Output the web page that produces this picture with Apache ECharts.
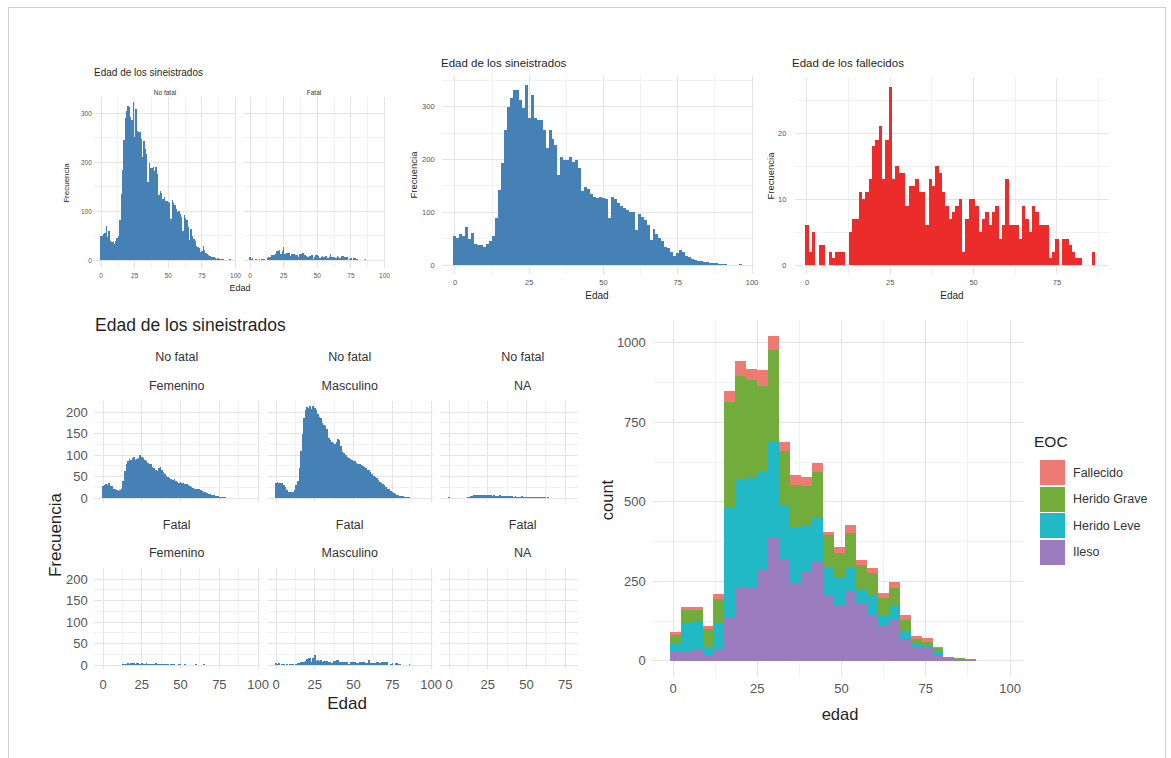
<!DOCTYPE html>
<html><head><meta charset="utf-8">
<script src="https://cdn.jsdelivr.net/npm/echarts@6/dist/echarts.min.js"></script>
<style>html,body{margin:0;padding:0;background:#fff}#c{width:1171px;height:758px}#c svg path{shape-rendering:crispEdges}</style>
</head><body><div id="c"></div>
<script>
// ---------------- DATA (counts indexed by age, starting at age 0) ----------------
const siniestradosTotal = [
 55,52,58,55,72,50,60,40,38,38, 35,40,45,55,89,142,194,256,300,317,
 332,332,313,298,341,279,322,279,275,275, 256,222,256,240,228,171,205,200,200,205,
 195,200,185,140,148,145,135,130,128,130, 128,125,89,130,125,118,112,108,104,100,
 100,66,97,92,85,76,48,68,58,52, 45,35,32,25,18,22,28,25,18,15,
 12,10,8,7,6,5,4,4,3,2, 2,2,1,1,0,1,2,1,0,0];
const siniestradosNoFatal = [
 49,50,53,55,69,47,60,38,37,36, 33,38,45,50,82,135,183,246,289,304,
 314,313,292,285,322,252,309,264,261,261, 247,210,244,227,217,160,199,187,188,190,
 181,189,176,133,140,136,125,128,121,120, 118,116,84,123,117,112,104,99,100,94,
 87,60,91,86,81,67,41,63,49,44, 39,29,26,24,16,18,28,21,14,12,
 10,9,7,7,6,5,2,4,3,2, 2,2,1,1,0,1,2,1,0,0];
const fallecidos = [
 6,2,5,0,3,3,0,2,1,2, 2,2,0,5,7,7,11,10,11,13,
 18,19,21,13,19,27,13,15,14,14, 9,12,12,13,11,11,6,13,12,15,
 14,11,9,7,8,9,10,2,7,10, 10,9,5,7,8,6,8,9,4,6,
 13,6,6,6,4,9,7,5,9,8, 6,6,6,1,2,4,0,4,4,3,
 2,1,1,0,0,0,2,0];
const femNoFatal = [
 28,30,32,30,34,29,28,22,20,18, 17,18,22,40,62,78,85,90,88,92,
 95,88,90,92,100,96,92,88,85,82, 80,78,72,70,66,62,70,73,65,60,
 55,52,50,46,45,42,44,40,38,36, 38,35,34,33,32,30,28,26,24,22,
 22,20,21,18,16,15,14,12,10,9, 8,7,6,5,4,3,3,2,2,2,
 1,1,1,1,0,1,0,0,0,0];
const mascNoFatal = [
 35,38,36,34,36,30,25,18,15,14, 13,14,18,30,40,70,110,150,185,205,
 212,210,214,208,213,210,205,195,188,185, 175,170,168,160,140,135,130,128,125,130,
 138,135,120,108,105,100,95,92,90,88, 86,85,82,80,78,77,75,72,70,66,
 64,60,56,52,48,46,42,38,35,32, 30,26,22,20,16,14,12,10,8,6,
 5,5,4,3,3,3,2,1,1,1, 1];
const naNoFatal = [
 2,1,1,0,1,1,0,1,0,1, 1,1,2,3,4,5,6,6,7,7,
 7,8,7,7,6,7,6,6,5,6, 5,5,5,6,5,4,5,4,4,5,
 4,4,3,4,3,3,3,4,3,3, 3,2,3,3,2,2,3,2,2,2,
 2,2,2,1,2,1,1,1,1,1, 1,0,1,0,1];
const femFatal = [
 1,0,1,0,0,1,0,0,0,0, 0,0,0,2,3,3,4,3,4,4,
 4,3,4,5,3,4,3,3,4,3, 3,2,3,3,4,3,2,3,2,3,
 2,3,2,1,2,2,3,0,1,2, 2,1,1,2,1,0,1,1,0,1,
 2,1,1,1,0,2,1,0,1,1];
const mascFatal = [
 5,2,4,0,3,2,0,2,1,2, 2,2,0,3,4,4,7,7,7,9,
 14,16,17,8,16,23,10,12,10,11, 6,10,9,10,7,8,4,10,10,12,
 12,8,7,6,6,7,7,2,6,8, 8,8,4,5,7,6,7,8,4,5,
 11,5,5,5,4,7,6,5,8,7, 6,6,6,1,2,4,0,4,4,3,
 2,1,1,0,0,0,2,0];
const naFatal = [0,0,1,0,0,0,0,0,0,0, 0,0,0,0,0,0,0,0,0,0, 0,0,0,0,0,0,0,0,0,1, 0,1];

// stacked histogram (EOC), bin edges in years of age
const eocEdges = [-1,2.25,5.5,8.75,12,15.25,18.5,21.75,25,28.25,31.5,34.75,38,41.25,44.5,47.75,51,54.25,57.5,60.75,64,67.25,70.5,73.75,77,80.25,83.5,86.75,90];
const eocIleso     = [29,29,37,19,35,134,234,234,286,386,318,245,281,313,208,176,218,182,145,113,129,66,45,40,19,12,7,5];
const eocLeve      = [27,90,87,21,84,346,336,346,310,304,168,173,147,141,84,84,79,41,58,32,47,26,11,10,10,1,0,0];
const eocGrave     = [26,41,36,60,75,336,325,305,268,289,173,136,121,139,105,79,107,79,73,52,53,37,12,11,11,1,1,0];
const eocFallecido = [10,9,9,10,16,32,47,33,52,42,31,31,31,31,10,21,24,16,16,16,19,16,9,10,5,0,0,0];
const eocNames = ['Fallecido','Herido Grave','Herido Leve','Ileso'];

// tick values
const ticksAge100 = [0,25,50,75,100];
const ticksAge75 = [0,25,50,75];
const minorAge = [12.5,37.5,62.5,87.5];
const ticksFreq300 = [0,100,200,300];
const minorFreq300 = [50,150,250,350];
const ticksFall = [0,10,20];
const minorFall = [5,15,25];
const ticksFacet = [0,50,100,150,200];
const minorFacet = [25,75,125,175];
const ticksCount = [0,250,500,750,1000];
const minorCount = [125,375,625,875];

// ---------------- STYLE ----------------
const FF = "'Liberation Sans', Arial, Helvetica, sans-serif";
const BLUE = '#4581B5', RED = '#EC2B2B';
const EOC_COL = {'Fallecido':'#EE7B73','Herido Grave':'#72AC3B','Herido Leve':'#20B9C5','Ileso':'#9B7CBE'};
const MAJOR = '#E4E4E4', MINOR = '#F1F1F1';

// panel layout: [left, top, width, height, xmin, xmax, ymin, ymax]
const P = [
 [94.3, 97.4, 141.9, 170.5, -5, 100.5, -16, 332],   // 0 A1 No fatal
 [243.3, 97.4, 141.9, 170.5, -5, 100.5, -16, 332],  // 1 A2 Fatal
 [441.6, 75.3, 311.9, 198.7, -4.5, 100.5, -17, 360],// 2 B
 [795.3, 77.6, 313.3, 196.4, -3.5, 90.5, -1.35, 28.4], // 3 C
 [93.7, 401.25, 166, 101.05, -6, 101, -10, 225],     // 4 D r1c1
 [266.7, 401.25, 166, 101.05, -6, 101, -10, 225],    // 5
 [439.7, 401.25, 138, 101.05, -6, 83, -10, 225],     // 6
 [93.7, 568.25, 166, 101.05, -6, 101, -10, 225],     // 7
 [266.7, 568.25, 166, 101.05, -6, 101, -10, 225],    // 8
 [439.7, 568.25, 138, 101.05, -6, 83, -10, 225],     // 9
 [652.8, 320.1, 370.7, 357.1, -6, 104, -51, 1072]    // 10 E
];
// axis label config per panel: [xLabels, yLabels, fontSize, xMargin, yMargin]
const LBL = [
 [ticksAge100, ticksFreq300, 6.5, 4, 2.5],
 [ticksAge100, null, 6.5, 4, 2.5],
 [ticksAge100, ticksFreq300, 7.5, 4.5, 7],
 [ticksAge75, ticksFall, 7.5, 4.5, 9],
 [null, ticksFacet, 13, 9, 6],
 [null, null, 13, 9, 6],
 [null, null, 13, 9, 6],
 [ticksAge100, ticksFacet, 13, 9, 6],
 [ticksAge100, null, 13, 9, 6],
 [ticksAge75, null, 13, 9, 6],
 [ticksAge100, ticksCount, 13, 4.5, 7]
];
const GL = [
 [ticksAge100, minorAge, ticksFreq300, minorFreq300, 1],
 [ticksAge100, minorAge, ticksFreq300, minorFreq300, 1],
 [ticksAge100, minorAge, ticksFreq300, minorFreq300, 1],
 [ticksAge75, minorAge, ticksFall, minorFall, 1],
 [ticksAge100, minorAge, ticksFacet, minorFacet, 1],
 [ticksAge100, minorAge, ticksFacet, minorFacet, 1],
 [ticksAge100, minorAge, ticksFacet, minorFacet, 1],
 [ticksAge100, minorAge, ticksFacet, minorFacet, 1],
 [ticksAge100, minorAge, ticksFacet, minorFacet, 1],
 [ticksAge100, minorAge, ticksFacet, minorFacet, 1],
 [ticksAge100, minorAge, ticksCount, minorCount, 1]
];

const plainNum = v => String(v);
const grid = [], xAxis = [], yAxis = [], series = [];
P.forEach((p, i) => {
  grid.push({left: p[0], top: p[1], width: p[2], height: p[3], containLabel: false, outerBoundsMode: 'none'});
  const l = LBL[i];
  xAxis.push({gridIndex: i, type: 'value', min: p[4], max: p[5],
    axisLine: {show: false}, axisTick: {show: false}, splitLine: {show: false},
    axisLabel: {show: !!l[0], customValues: l[0] || [], formatter: plainNum, fontSize: l[2], fontFamily: FF, color: '#555', margin: l[3]}});
  yAxis.push({gridIndex: i, type: 'value', min: p[6], max: p[7],
    axisLine: {show: false}, axisTick: {show: false}, splitLine: {show: false},
    axisLabel: {show: !!l[1], customValues: l[1] || [], formatter: plainNum, fontSize: l[2], fontFamily: FF, color: '#555', margin: l[4]}});
  const g = GL[i];
  series.push({
    type: 'custom', xAxisIndex: i, yAxisIndex: i, silent: true, z: 0, data: [[0, 0]],
    renderItem: function (params, api) {
      const cs = params.coordSys, ch = [];
      const lw = g[4];
      const vx = (v, minor) => {
        const x = api.coord([v, 0])[0];
        if (x < cs.x - 0.5 || x > cs.x + cs.width + 0.5) return;
        ch.push({type: 'line', shape: {x1: x, y1: cs.y, x2: x, y2: cs.y + cs.height},
          style: {stroke: minor ? MINOR : MAJOR, lineWidth: lw}});
      };
      const hy = (v, minor) => {
        const y = api.coord([0, v])[1];
        if (y < cs.y - 0.5 || y > cs.y + cs.height + 0.5) return;
        ch.push({type: 'line', shape: {x1: cs.x, y1: y, x2: cs.x + cs.width, y2: y},
          style: {stroke: minor ? MINOR : MAJOR, lineWidth: lw}});
      };
      g[1].forEach(v => vx(v, true)); g[3].forEach(v => hy(v, true));
      g[0].forEach(v => vx(v, false)); g[2].forEach(v => hy(v, false));
      return {type: 'group', children: ch};
    }
  });
});

function rectRender(color) {
  return function (params, api) {
    const x0 = api.value(0), x1 = api.value(1), y0 = api.value(2), y1 = api.value(3);
    if (!(y1 > y0)) return null;
    const a = api.coord([x0, y1]), b = api.coord([x1, y0]);
    return {type: 'rect', shape: {x: a[0], y: a[1], width: b[0] - a[0], height: b[1] - a[1]},
      style: {fill: color}};
  };
}
function hist(gi, counts, color, name) {
  return {type: 'custom', name: name, xAxisIndex: gi, yAxisIndex: gi, clip: true, z: 2, silent: true,
    encode: {x: [0, 1], y: [2, 3]},
    data: counts.map((c, age) => [age - 0.5, age + 0.5, 0, c]),
    renderItem: rectRender(color)};
}
series.push(hist(0, siniestradosNoFatal, BLUE, 'No fatal'));
series.push(hist(1, fallecidos, BLUE, 'Fatal'));
series.push(hist(2, siniestradosTotal, BLUE, 'Siniestrados'));
series.push(hist(3, fallecidos, RED, 'Fallecidos'));
series.push(hist(4, femNoFatal, BLUE, 'No fatal Femenino'));
series.push(hist(5, mascNoFatal, BLUE, 'No fatal Masculino'));
series.push(hist(6, naNoFatal, BLUE, 'No fatal NA'));
series.push(hist(7, femFatal, BLUE, 'Fatal Femenino'));
series.push(hist(8, mascFatal, BLUE, 'Fatal Masculino'));
series.push(hist(9, naFatal, BLUE, 'Fatal NA'));

// stacked EOC histogram (bottom to top: Ileso, Herido Leve, Herido Grave, Fallecido)
const eocLayers = [['Ileso', eocIleso], ['Herido Leve', eocLeve], ['Herido Grave', eocGrave], ['Fallecido', eocFallecido]];
let base = eocIleso.map(() => 0);
eocLayers.forEach(([name, vals], k) => {
  const data = vals.map((v, i) => [eocEdges[i], eocEdges[i + 1], base[i], base[i] + v]);
  base = base.map((b, i) => b + vals[i]);
  series.push({type: 'custom', name: name, xAxisIndex: 10, yAxisIndex: 10, z: 2, silent: true,
    encode: {x: [0, 1], y: [2, 3]}, data: data, renderItem: rectRender(EOC_COL[name])});
});

// ---------------- TEXT / DECORATION ----------------
function txt(text, x, y, fs, o) {
  o = o || {};
  return {type: 'text', x: x, y: y, rotation: o.rot || 0, silent: true, z: 10,
    style: {text: text, font: (o.bold ? 'bold ' : '') + fs + 'px ' + FF, fill: o.color || '#1F1F1F',
      textAlign: o.align || 'center', textVerticalAlign: 'middle', align: o.align || 'center', verticalAlign: 'middle'}};
}
const R90 = Math.PI / 2;
const graphic = [
  {type: 'rect', shape: {x: 8, y: 7, width: 1157, height: 760}, style: {fill: 'none', stroke: '#CFCFCF', lineWidth: 1}, silent: true, z: 0},
  // top-left
  txt('Edad de los sineistrados', 94, 72, 10, {align: 'left'}),
  txt('No fatal', 165, 92, 6.5, {color: '#333'}),
  txt('Fatal', 314, 92, 6.5, {color: '#333'}),
  txt('Edad', 240, 288, 9),
  txt('Frecuencia', 66, 183, 8, {rot: R90}),
  // top-middle
  txt('Edad de los sineistrados', 441, 63, 11.5, {align: 'left'}),
  txt('Edad', 597, 295, 10),
  txt('Frecuencia', 413, 175, 9.5, {rot: R90}),
  // top-right
  txt('Edad de los fallecidos', 792, 63, 11.5, {align: 'left'}),
  txt('Edad', 952, 295, 10),
  txt('Frecuencia', 770, 176, 9.5, {rot: R90}),
  // bottom-left facets
  txt('Edad de los sineistrados', 95, 325, 17.5, {align: 'left'}),
  txt('No fatal', 176.7, 357, 12.5, {color: '#333'}),
  txt('No fatal', 349.7, 357, 12.5, {color: '#333'}),
  txt('No fatal', 522.7, 357, 12.5, {color: '#333'}),
  txt('Femenino', 176.7, 386, 12.5, {color: '#333'}),
  txt('Masculino', 349.7, 386, 12.5, {color: '#333'}),
  txt('NA', 522.7, 386, 12.5, {color: '#333'}),
  txt('Fatal', 176.7, 525, 12.5, {color: '#333'}),
  txt('Fatal', 349.7, 525, 12.5, {color: '#333'}),
  txt('Fatal', 522.7, 525, 12.5, {color: '#333'}),
  txt('Femenino', 176.7, 553, 12.5, {color: '#333'}),
  txt('Masculino', 349.7, 553, 12.5, {color: '#333'}),
  txt('NA', 522.7, 553, 12.5, {color: '#333'}),
  txt('Edad', 347, 703, 17),
  txt('Frecuencia', 55, 535, 17, {rot: R90}),
  // bottom-right
  txt('edad', 840, 714, 16.5),
  txt('count', 607, 500, 16.5, {rot: R90}),
  txt('EOC', 1034, 441, 15.5, {align: 'left'})
];
eocNames.forEach((n, i) => {
  const y = 460 + i * 26.5;
  graphic.push({type: 'rect', shape: {x: 1040, y: y, width: 25, height: 25}, style: {fill: EOC_COL[n]}, silent: true, z: 10});
  graphic.push(txt(n, 1073, y + 12.5, 12.5, {align: 'left', color: '#333'}));
});

const chart = echarts.init(document.getElementById('c'), null, {renderer: 'svg'});
chart.setOption({animation: false, backgroundColor: '#fff', grid: grid, xAxis: xAxis, yAxis: yAxis, series: series, graphic: graphic});
</script></body></html>
